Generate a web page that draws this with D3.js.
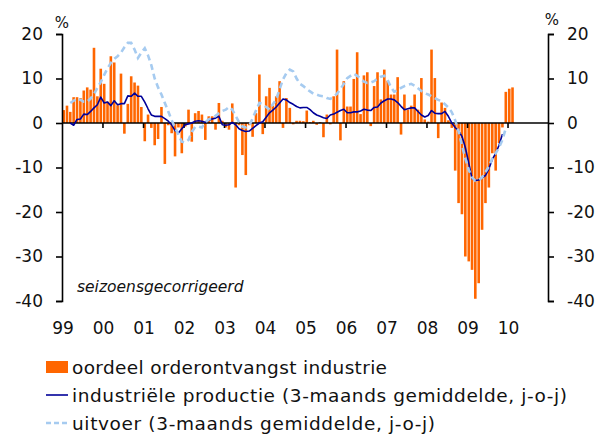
<!DOCTYPE html>
<html>
<head>
<meta charset="utf-8">
<script src="https://cdn.jsdelivr.net/npm/d3@7"></script>
<style>
  html, body { margin: 0; padding: 0; background: #fff; }
  svg { display: block; font-family: "DejaVu Sans", Verdana, sans-serif; }
</style>
</head>
<body>
<div id="chart"></div>
<script>
// monthly data, first month Jan 1999
const startYear = 1999;
const yearLabels = ['99', '00', '01', '02', '03', '04', '05', '06', '07', '08', '09', '10'];
const yTicks = [-40, -30, -20, -10, 0, 10, 20];

// oordeel orderontvangst industrie (bars), Jan 1999 .. Feb 2010
const orders = [
  2.9, 3.9, 2.5, 5.8, 5.8, 5.6, 7.3, 8.0, 7.5, 16.9, 6.0, 12.2,
  8.8, 4.8, 15.0, 13.6, 4.0, 11.1, -2.4, 4.3, 10.5, 9.1, 8.4, 3.6,
  -4.1, 1.9, -1.1, -5.0, -3.6, 3.6, -9.2, -0.5, -2.3, -7.5, -1.0, -6.8,
  -0.8, 3.0, -4.2, 2.2, 2.7, 1.9, -3.8, 1.5, 1.5, -1.5, 4.5, 0.5,
  -1.0, -1.5, 4.4, -14.5, -0.5, -7.2, -11.7, -0.5, -3.1, 2.2, 10.9, -2.5,
  6.0, 7.9, 3.9, 6.0, 9.4, -1.1, 5.6, 3.4, -0.3, 0.5, 0.5, 0.4,
  2.8, 0.2, 0.5, -0.4, 0.2, -3.2, 1.9, -0.3, 6.0, 16.5, -3.9, 9.4,
  3.7, 3.7, 9.9, 15.9, 2.0, 10.7, 11.4, -0.7, 8.3, 11.4, 5.3, 12.0,
  9.5, 6.4, 6.4, 10.3, -2.6, 6.4, 3.0, 3.9, 6.4, 3.0, 10.1, 0.8,
  0.3, 16.5, 10.1, -3.4, 4.6, 3.4, 0.6, -1.1, -10.7, -18.0, -20.5, -30.0,
  -31.1, -33.0, -39.5, -36.0, -24.0, -18.0, -14.5, -6.8, -10.7, -4.5, -1.0, 7.0,
  7.7, 8.0
];

// lines start in Mar 1999 (3-month averages)
const lineStart = 2;

// industriële productie (3-maands gemiddelde, j-o-j), Mar 1999 .. Nov 2009
const production = [
  0.0, -0.5, 0.8, 0.9, 2.0, 1.9, 2.6, 3.4, 4.1, 5.8,
  4.5, 4.7, 3.9, 5.0, 4.1, 4.35, 4.35, 6.1, 6.0, 6.7, 6.0, 6.0,
  4.7, 3.2, 1.8, 1.5, 1.5, 1.5, 1.0, 0.4, -0.4, -1.7, -2.25, -1.3,
  -0.4, -0.2, 0.0, 0.4, 0.5, 0.4, 0.15, 0.6, 0.9, 1.1, 1.5, -0.4,
  -0.5, -0.4, 0.15, -0.4, -1.3, -1.7, -1.9, -1.8, -1.2, -0.6, 0.0, 0.3,
  1.3, 2.3, 2.9, 3.6, 4.5, 5.4, 5.2, 4.6, 4.2, 3.7, 3.4, 3.5,
  3.5, 3.0, 2.3, 1.8, 1.5, 1.2, 1.0, 1.8, 2.0, 2.4, 2.8, 3.1,
  2.3, 2.3, 2.5, 2.5, 2.7, 3.1, 2.9, 2.8, 3.5, 3.6, 4.5, 5.0,
  5.4, 5.4, 5.2, 4.6, 3.75, 3.0, 3.2, 3.4, 3.4, 2.6, 1.8, 1.35,
  1.7, 2.8, 2.2, 2.1, 2.1, 2.6, 1.5, 0.0, -1.0, -1.8, -3.0, -5.5,
  -9.0, -12.5, -12.9, -12.8, -12.3, -11.8, -10.3, -8.2, -6.8, -5.0, -2.5
];

// uitvoer (3-maands gemiddelde, j-o-j), Mar 1999 .. Dec 2009
const exportsSeries = [
  4.5, 5.0, 5.5, 5.2, 4.8, 4.8, 5.5, 6.5, 7.9, 9.2,
  10.8, 12.3, 13.5, 14.4, 15.0, 15.8, 17.0, 18.0, 18.0, 16.5, 14.6, 15.8,
  16.8, 15.2, 13.0, 10.0, 8.0, 6.4, 4.5, 2.6, 0.6, -1.0, -2.6, -4.2,
  -4.4, -3.8, -2.0, -0.9, -0.8, -1.0, 0.2, 0.8, 1.2, 1.6, 2.2, 2.7,
  3.0, 3.6, 3.0, 1.6, 0.2, -0.8, -1.0, -0.6, 1.0, 2.8, 4.5, 4.2,
  3.6, 3.0, 4.2, 5.3, 7.6, 9.8, 11.2, 12.0, 11.6, 10.0, 8.8, 8.3,
  7.6, 7.1, 6.6, 6.4, 6.1, 6.0, 5.6, 5.4, 5.9, 6.6, 7.6, 8.8,
  10.1, 10.6, 11.1, 10.6, 10.0, 9.3, 9.0, 9.1, 9.4, 10.0, 10.4, 10.6,
  9.6, 8.0, 7.0, 7.4, 7.9, 8.3, 8.6, 8.8, 8.4, 7.8, 7.2, 6.7,
  6.4, 6.0, 5.6, 5.2, 4.9, 4.2, 3.5, 2.4, 0.6, -1.8, -5.0, -8.0,
  -10.5, -12.2, -13.0, -12.9, -12.2, -11.0, -9.8, -8.0, -6.8, -5.5, -3.8, -1.2
];

const legendItems = [
  'oordeel orderontvangst industrie',
  'industriële productie (3-maands gemiddelde, j-o-j)',
  'uitvoer (3-maands gemiddelde, j-o-j)'
];

const width = 602, height = 435;
const m = { left: 62, right: 548, top: 34, bottom: 301 };
const colors = { bar: '#ff6600', prod: '#000099', exp: '#a6cbf0' };

const x = d3.scaleTime()
  .domain([new Date(startYear, 0, 1), new Date(startYear + 12, 0, 1)])
  .range([m.left, m.right]);
const y = d3.scaleLinear().domain([-40, 20]).range([m.bottom, m.top]);
const mid = i => (x(new Date(startYear, i, 1)) + x(new Date(startYear, i + 1, 1))) / 2;

const svg = d3.select('#chart').append('svg').attr('width', width).attr('height', height);

// bars
const bw = 2.6;
svg.append('g').selectAll('rect').data(orders).join('rect')
  .attr('x', (d, i) => mid(i) - bw / 2)
  .attr('width', bw)
  .attr('y', d => y(Math.max(0, d)))
  .attr('height', d => Math.abs(y(d) - y(0)))
  .attr('fill', colors.bar);

// zero line + year ticks
const xAxis = d3.axisBottom(x)
  .tickValues(d3.range(1, 12).map(k => new Date(startYear + k, 0, 1)))
  .tickSize(5).tickFormat('');
const gx = svg.append('g').attr('transform', `translate(0,${y(0)})`).call(xAxis);
gx.select('.domain').attr('d', `M${m.left},0H${m.right}`).attr('stroke', '#000').attr('stroke-width', 1.6);
gx.selectAll('.tick line').attr('stroke', '#000').attr('stroke-width', 1.6);

svg.append('g').selectAll('text').data(yearLabels).join('text')
  .attr('x', (d, k) => x(new Date(startYear + k, 0, 1)) + 1)
  .attr('y', 333.5)
  .attr('text-anchor', 'middle')
  .attr('font-size', 17)
  .attr('fill', '#111')
  .text(d => d);

// y axes
const styleAxis = g => {
  g.select('.domain').attr('stroke', '#000').attr('stroke-width', 1.6);
  g.selectAll('.tick line').attr('stroke', '#000').attr('stroke-width', 1.6);
  g.selectAll('.tick text').attr('font-size', 17).attr('fill', '#111')
    .attr('font-family', '"DejaVu Sans", Verdana, sans-serif');
};
svg.append('g').attr('transform', `translate(${m.left},0)`)
  .call(d3.axisLeft(y).tickValues(yTicks).tickSize(6).tickSizeOuter(6).tickPadding(13).tickFormat(d => String(d)))
  .call(styleAxis);
svg.append('g').attr('transform', `translate(${m.right},0)`)
  .call(d3.axisRight(y).tickValues(yTicks).tickSize(6).tickSizeOuter(6).tickPadding(13).tickFormat(d => String(d)))
  .call(styleAxis);

svg.append('text').attr('x', 62).attr('y', 28).attr('text-anchor', 'middle')
  .attr('font-size', 15).attr('fill', '#111').text('%');
svg.append('text').attr('x', 552).attr('y', 25).attr('text-anchor', 'middle')
  .attr('font-size', 15).attr('fill', '#111').text('%');

// lines
const line = d3.line().x((d, i) => mid(i + lineStart)).y(d => y(d));
svg.append('path').datum(production).attr('d', line)
  .attr('fill', 'none').attr('stroke', colors.prod).attr('stroke-width', 1.6).attr('stroke-linejoin', 'round');
svg.append('path').datum(exportsSeries).attr('d', line)
  .attr('fill', 'none').attr('stroke', colors.exp).attr('stroke-width', 2.6)
  .attr('stroke-dasharray', '6,4');

svg.append('text').attr('x', 77).attr('y', 291.5)
  .attr('font-size', 15.5).attr('font-style', 'italic').attr('fill', '#111')
  .text('seizoensgecorrigeerd');

// legend
const lg = svg.append('g');
const rowY = [367, 395, 423];
const rowWidth = [315, 495, 363]; // text widths in the original legend
lg.append('rect').attr('x', 46).attr('y', rowY[0] - 6).attr('width', 22).attr('height', 12).attr('fill', colors.bar);
lg.append('line').attr('x1', 46).attr('x2', 68).attr('y1', rowY[1]).attr('y2', rowY[1])
  .attr('stroke', colors.prod).attr('stroke-width', 1.6);
lg.append('line').attr('x1', 46).attr('x2', 68).attr('y1', rowY[2]).attr('y2', rowY[2])
  .attr('stroke', colors.exp).attr('stroke-width', 2.6).attr('stroke-dasharray', '5,3');
lg.selectAll('text').data(legendItems).join('text')
  .attr('x', 72).attr('y', (d, i) => rowY[i] + 6.5)
  .attr('font-size', 18.5).attr('fill', '#111')
  .attr('textLength', (d, i) => rowWidth[i])
  .attr('lengthAdjust', 'spacing')
  .text(d => d);
</script>
</body>
</html>
